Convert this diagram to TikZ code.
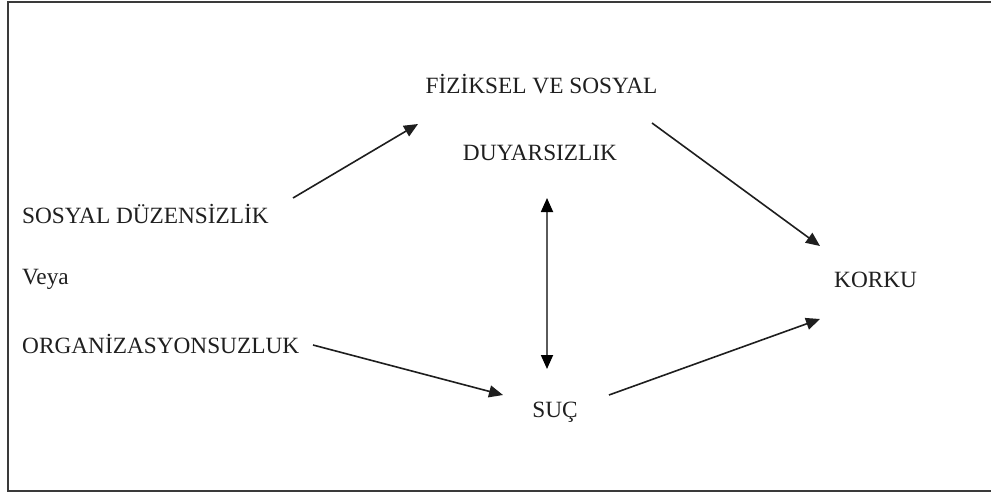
\documentclass[tikz,border=0pt]{standalone}
\usepackage{fontspec}
\setmainfont{Liberation Serif}
\usetikzlibrary{arrows.meta}
\definecolor{framegray}{HTML}{3A3A3A}
\definecolor{linedark}{HTML}{1E1E1E}
\definecolor{linegray}{HTML}{5A5A5A}
\tikzset{
  lbl/.style={inner sep=0pt, font=\fontsize{23.3}{27}\selectfont, text=black!88},
  arr/.style={draw=linedark, line width=1.6pt, -{Triangle[length=14pt,width=12pt]}},
  dblarr/.style={draw=linegray, line width=1.8pt, {Triangle[length=14pt,width=12pt,fill=black,color=black]}-{Triangle[length=14pt,width=12pt,fill=black,color=black]}},
  frame/.style={draw=framegray, line width=2pt}
}
\begin{document}
\begin{tikzpicture}[x=1pt,y=-1pt]
\useasboundingbox (0,0) rectangle (991,493);
\fill[white] (0,0) rectangle (991,493);
\draw[frame] (8,1.5) rectangle (995,491);
% labels
\node[lbl, anchor=base] (fiz) at (541.5,93) {FİZİKSEL VE SOSYAL};
\node[lbl, anchor=base] (duy) at (540,160) {DUYARSIZLIK};
\node[lbl, anchor=base west] (sos) at (22,223) {SOSYAL DÜZENSİZLİK};
\node[lbl, anchor=base west] (veya) at (22,284) {Veya};
\node[lbl, anchor=base west] (org) at (22,353) {ORGANİZASYONSUZLUK};
\node[lbl, anchor=base west] (kor) at (834,287) {KORKU};
\node[lbl, anchor=base] (suc) at (555,417) {SUÇ};
% connector ends
\coordinate (a1s) at (293,198);
\coordinate (a1e) at (418,124);
\coordinate (a2s) at (652,123);
\coordinate (a2e) at (820,246);
\coordinate (vt) at (547,198);
\coordinate (vb) at (547,369);
\coordinate (a4s) at (313,345);
\coordinate (a4e) at (503,395);
\coordinate (a5s) at (609,395);
\coordinate (a5e) at (820,319);
% connectors
\draw[arr] (a1s) -- (a1e);
\draw[arr] (a2s) -- (a2e);
\draw[dblarr] (vt) -- (vb);
\draw[arr] (a4s) -- (a4e);
\draw[arr] (a5s) -- (a5e);
\end{tikzpicture}
\end{document}
